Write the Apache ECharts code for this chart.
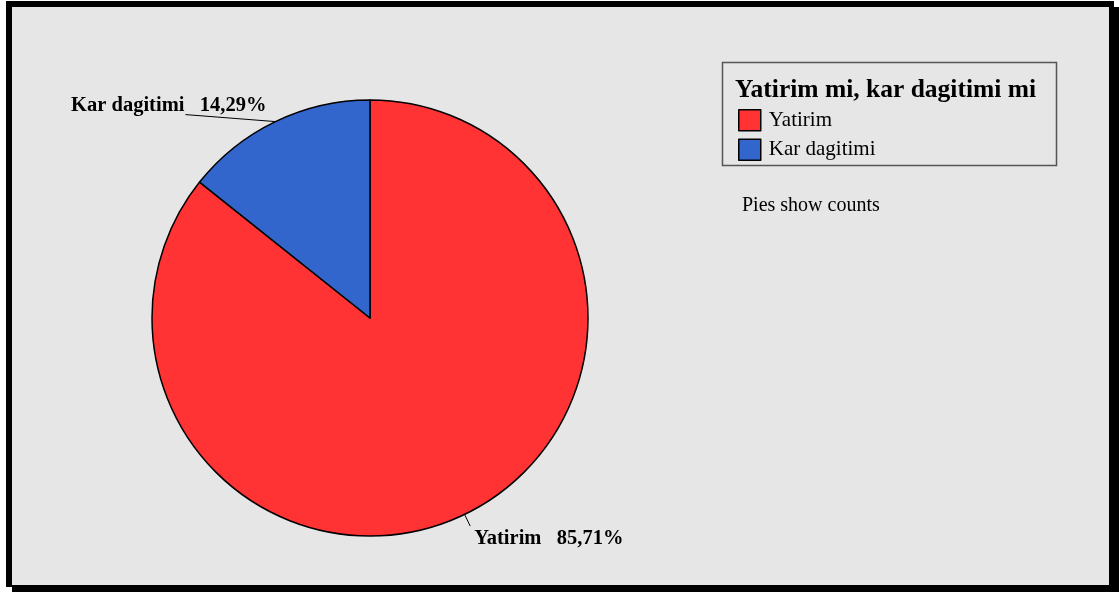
<!DOCTYPE html>
<html>
<head>
<meta charset="utf-8">
<script src="https://cdn.jsdelivr.net/npm/echarts@6/dist/echarts.min.js"></script>
<style>
  html, body { margin: 0; padding: 0; background: #ffffff; }
  #chart { width: 1119px; height: 592px; }
</style>
</head>
<body>
<div id="chart"></div>
<script>
// Answers to "Yatirim mi, kar dagitimi mi" (counts)
const categories = ['Yatirim', 'Kar dagitimi'];
const counts = [6, 1];
const sliceColors = ['#ff3333', '#3366cc'];
const legendTitle = 'Yatirim mi, kar dagitimi mi';
const footnote = 'Pies show counts';

const serif = '"Liberation Serif", "DejaVu Serif", serif';

function pct(p) {
  return p.toFixed(2).replace('.', ',') + '%';
}

const chart = echarts.init(document.getElementById('chart'), null, { renderer: 'canvas' });

const option = {
  backgroundColor: '#ffffff',
  animation: false,
  graphic: [
    // frame with drop shadow
    { type: 'rect', z: -10, silent: true, shape: { x: 12, y: 7, width: 1107, height: 585 }, style: { fill: '#000' } },
    { type: 'rect', z: -9, silent: true, shape: { x: 6, y: 1, width: 1108, height: 586 }, style: { fill: '#000' } },
    { type: 'rect', z: -8, silent: true, shape: { x: 12, y: 7, width: 1097, height: 578 }, style: { fill: '#e6e6e6' } },
    // legend box
    { type: 'rect', z: -7, silent: true, shape: { x: 722.5, y: 62.5, width: 334, height: 103 },
      style: { fill: 'transparent', stroke: '#555', lineWidth: 1.5 } },
    { type: 'text', silent: true, left: 735, top: 77,
      style: { text: legendTitle, font: 'bold 25.5px ' + serif, fill: '#000' } },
    { type: 'text', silent: true, left: 742, top: 196,
      style: { text: footnote, font: '20px ' + serif, fill: '#000' } }
  ],
  legend: {
    orient: 'vertical',
    left: 733,
    top: 104,
    itemWidth: 22,
    itemHeight: 21,
    itemGap: 7,
    icon: 'rect',
    selectedMode: false,
    itemStyle: { borderColor: '#000', borderWidth: 1.5 },
    textStyle: { fontFamily: serif, fontSize: 21, color: '#000', padding: [2, 0, 0, 3] },
    data: categories
  },
  series: [{
    type: 'pie',
    center: [370, 318],
    radius: 218,
    startAngle: 90,
    clockwise: true,
    avoidLabelOverlap: false,
    emphasis: { disabled: true },
    silent: true,
    itemStyle: { borderColor: '#000', borderWidth: 1.5 },
    label: {
      show: true,
      position: 'outside',
      fontFamily: serif,
      fontWeight: 'bold',
      fontSize: 20.5,
      color: '#000',
      formatter: p => p.name + '   ' + pct(p.percent)
    },
    labelLine: {
      show: true,
      length: 13,
      length2: 0,
      lineStyle: { color: '#000', width: 1 }
    },
    labelLayout: function (params) {
      const pts = params.labelLinePoints;
      const p0 = pts[0];
      const p1 = pts[1];
      if (params.dataIndex === 1) {
        // line runs left from the rim, text sits above it
        return {
          x: p0[0] - 9,
          y: p0[1] - 16,
          align: 'right',
          verticalAlign: 'middle',
          labelLinePoints: [p0, [p0[0] - 90, p0[1] - 7]]
        };
      }
      // short radial tick, text below-right of it
      return {
        x: p1[0] + 4,
        y: p1[1] + 13,
        align: 'left',
        verticalAlign: 'middle',
        labelLinePoints: [p0, p1]
      };
    },
    data: categories.map((name, i) => ({
      name: name,
      value: counts[i],
      itemStyle: { color: sliceColors[i] }
    }))
  }]
};

chart.setOption(option);
</script>
</body>
</html>
